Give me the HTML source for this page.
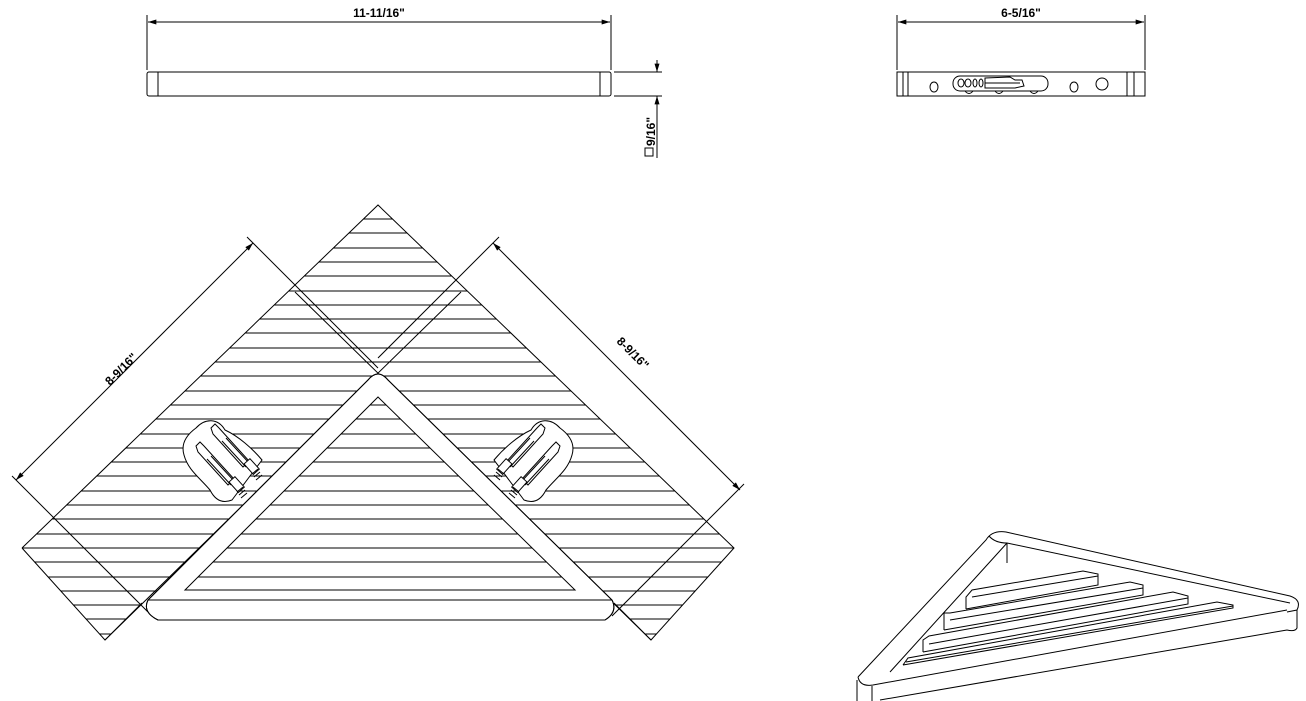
<!DOCTYPE html>
<html><head><meta charset="utf-8"><style>
html,body{margin:0;padding:0;background:#fff;}
svg{display:block;}
text{font-family:"Liberation Sans",sans-serif;font-weight:bold;font-size:12px;fill:#000;}
</style></head><body>
<svg width="1306" height="701" viewBox="0 0 1306 701" xmlns="http://www.w3.org/2000/svg" fill="none" stroke="#000" stroke-width="1">
<defs>
<clipPath id="u"><path d="M22,548 L378,205 L734,548 L651,640 L614,603 L142,603 L105,640 Z"/></clipPath>
<marker id="ar" viewBox="0 0 10 6" refX="10" refY="3" markerWidth="9" markerHeight="5" orient="auto-start-reverse"><path d="M0,0 L10,3 L0,6 Z" fill="#000" stroke="none"/></marker>
</defs>

<!-- top view -->
<line x1="147" y1="15" x2="147" y2="70"/><line x1="611" y1="15" x2="611" y2="70"/>
<line x1="148" y1="22" x2="610" y2="22" marker-start="url(#ar)" marker-end="url(#ar)"/>
<text x="379" y="17" text-anchor="middle" stroke="none">11-11/16"</text>
<rect x="147" y="72" width="464" height="24" rx="2"/>
<line x1="158" y1="72" x2="158" y2="96"/><line x1="600" y1="72" x2="600" y2="96"/>
<line x1="614" y1="72" x2="662" y2="72"/><line x1="614" y1="96" x2="662" y2="96"/>
<line x1="657" y1="60" x2="657" y2="72" marker-end="url(#ar)"/>
<line x1="657" y1="158" x2="657" y2="96" marker-end="url(#ar)"/>
<text transform="translate(655,146) rotate(-90)" stroke="none">9/16"</text>
<rect x="645" y="148" width="8" height="8"/>

<!-- side view -->
<line x1="897" y1="15" x2="897" y2="70"/><line x1="1145" y1="15" x2="1145" y2="70"/>
<line x1="898" y1="22" x2="1144" y2="22" marker-start="url(#ar)" marker-end="url(#ar)"/>
<text x="1021" y="17" text-anchor="middle" stroke="none">6-5/16"</text>
<rect x="897" y="72" width="248" height="24"/>
<line x1="903" y1="72" x2="903" y2="96"/><line x1="908" y1="72" x2="908" y2="96"/>
<line x1="1127" y1="72" x2="1127" y2="96"/><line x1="1134" y1="72" x2="1134" y2="96"/>
<ellipse cx="934" cy="87" rx="4" ry="5"/><ellipse cx="1074" cy="87" rx="4" ry="5"/>
<circle cx="1102" cy="84" r="6"/>
<rect x="953" y="76" width="95" height="15" rx="7"/>
<ellipse cx="961" cy="83" rx="3" ry="4"/><ellipse cx="968" cy="83" rx="3" ry="4"/>
<ellipse cx="975" cy="83" rx="2" ry="4"/><ellipse cx="981" cy="83" rx="2" ry="4"/>
<path d="M985,78 L1010,77 L1015,80 L1022,80 L1024,86 L1015,88 L985,88 Z"/>
<line x1="985" y1="83" x2="1020" y2="83"/>
<path d="M965,91 q4,5 8,0 M995,91 q4,5 8,0 M1030,91 q4,5 8,0"/>

<!-- plan view hatching -->
<g clip-path="url(#u)">
<path d="M0,219H760M0,233H760M0,248H760M0,262H760M0,276H760M0,291H760M0,305H760M0,319H760M0,333H760M0,348H760M0,362H760M0,376H760M0,391H760M0,405H760M0,419H760M0,434H760M0,448H760M0,462H760M0,476H760M0,491H760M0,505H760M0,519H760M0,534H760M0,548H760M0,562H760M0,577H760M0,591H760M0,605H760M0,619H760M0,634H760"/>
</g>
<path d="M22,548 L378,205 L734,548 L651,640 L614,603 M142,603 L105,640 L22,548"/>
<path d="M105,640 L461,292 M295,292 L651,640"/>

<!-- dimensions -->
<line x1="253" y1="243" x2="16" y2="480" marker-start="url(#ar)" marker-end="url(#ar)"/>
<line x1="247" y1="237" x2="378" y2="368"/>
<line x1="12" y1="476" x2="148" y2="612"/>
<text transform="translate(124,372) rotate(-45)" text-anchor="middle" stroke="none">8-9/16"</text>
<line x1="493" y1="243" x2="740" y2="490" marker-start="url(#ar)" marker-end="url(#ar)"/>
<line x1="499" y1="237" x2="378" y2="358"/>
<line x1="744" y1="484" x2="612" y2="616"/>
<text transform="translate(630,356) rotate(45)" text-anchor="middle" stroke="none">8-9/16"</text>

<!-- brackets -->
<g id="br">
<path d="M196,428 C205,418 218,418 225,430 C238,436 252,448 262,460 L232,500 C222,504 215,500 210,490 C200,478 188,470 184,455 C181,445 185,436 196,428 Z" fill="#fff"/>
<path d="M211,428 l4,-4 l4,4 l30,33 l-6,6 l-30,-33 Z" fill="#fff"/>
<path d="M222,441 l24,26 M226,438 l24,26"/>
<rect x="0" y="0" width="8" height="14" transform="translate(244,464) rotate(-42)" fill="#fff"/>
<path d="M252,474 l6,-5 M254,477 l6,-5 M256,480 l6,-5"/>
<path d="M196,446 l4,-4 l4,4 l30,33 l-6,6 l-30,-33 Z" fill="#fff"/>
<path d="M207,459 l24,26 M211,456 l24,26"/>
<rect x="0" y="0" width="8" height="14" transform="translate(229,482) rotate(-42)" fill="#fff"/>
<path d="M237,492 l6,-5 M239,495 l6,-5 M241,498 l6,-5"/>
</g>
<use href="#br" transform="translate(756,0) scale(-1,1)"/>

<!-- tray -->
<path fill="#fff" fill-rule="evenodd" d="M368,380 Q378,368 388,380 L612,600 Q618,612 605,620 L158,620 Q142,612 148,600 Z M378,397 L185,590 L575,590 Z"/>
<path d="M368,380 Q378,368 388,380 L612,600 Q618,612 605,620 L158,620 Q142,612 148,600 Z"/>
<line x1="148" y1="600" x2="612" y2="600"/>

<!-- iso view -->
<path d="M858,677 L986,540 Q992,530 1006,532 L1290,596 Q1302,600 1297,610 L1287,612"/>
<path d="M858,677 Q860,687 873,685 L1287,610"/>
<path d="M857,680 L857,701 M872,686 L872,701 M880,700 L1287,630 M1297,610 L1297,628 Q1295,632 1287,630"/>
<path d="M989,536 Q995,543 1007,543 L1290,603"/>
<path d="M1007,543 L1007,563 M1007,543 L890,672"/>
<path d="M966,609 L966,597 L972,590 L1083,571 L1098,574 L1098,585 L966,609 M972,597 L1098,576"/>
<path d="M944,630 L944,613 L950,613 L1130,582 L1143,585 L1143,595 L944,630 M950,620 L1143,588"/>
<path d="M923,652 L923,640 L929,636 L1173,592 L1188,596 L1188,604 L923,652 M929,644 L1188,598"/>
<path d="M903,665 L908,658 L1217,602 L1233,605 L1233,608 L903,665 M906,662 L1233,606"/>
</svg>
</body></html>
